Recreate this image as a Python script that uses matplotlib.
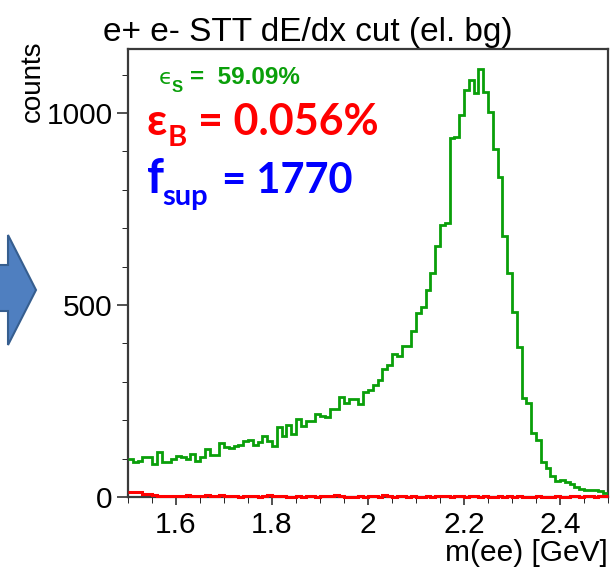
import numpy as np
import matplotlib.pyplot as plt
from matplotlib.patches import Polygon

# m(ee) histogram, 100 bins from 1.5 to 2.5 GeV
x_lo, x_hi, n_bins = 1.5, 2.5, 100

signal = [98, 90, 95, 103, 103, 86, 117, 91, 91, 100,
          108, 104, 100, 113, 94, 104, 125, 110, 110, 140,
          130, 127, 133, 136, 145, 149, 136, 142, 158, 145,
          132, 182, 158, 188, 165, 203, 186, 197, 197, 215,
          210, 208, 230, 230, 261, 245, 254, 254, 243, 273,
          280, 291, 305, 334, 343, 372, 367, 394, 394, 433,
          479, 494, 540, 584, 655, 708, 715, 935, 938, 994,
          1059, 1086, 1052, 1116, 1054, 1002, 907, 834, 680, 584,
          481, 390, 258, 244, 168, 148, 92, 76, 56, 42,
          45, 40, 34, 27, 22, 18, 18, 18, 16, 10]

background = [12, 12, 12, 9, 7, 4, 3, 3, 2, 3,
              2, 2, 5, 3, 2, 3, 5, 3, 2, 5,
              3, 2, 2, 1, 2, 2, 3, 1, 2, 5,
              3, 2, 2, 1, 0, 2, 1, 2, 3, 1,
              2, 2, 3, 5, 2, 1, 0, 1, 2, 1,
              3, 2, 1, 4, 2, 1, 2, 3, 1, 2,
              1, 0, 2, 1, 2, 3, 2, 1, 3, 2,
              1, 2, 3, 1, 2, 0, 1, 2, 1, 3,
              1, 2, 1, 0, 1, 2, 1, 0, 1, 2,
              1, 0, 2, 3, 1, 2, 3, 1, 3, 2]

x_ticks = [1.6, 1.8, 2.0, 2.2, 2.4]
x_ticklabels = ["1.6", "1.8", "2", "2.2", "2.4"]
y_ticks = [0, 500, 1000]

edges = np.linspace(x_lo, x_hi, n_bins + 1)

plt.rcParams['font.family'] = ['Liberation Sans', 'DejaVu Sans']

W, H = 611, 573
fig = plt.figure(figsize=(W / 100, H / 100), dpi=100)
ax = fig.add_axes([128 / W, 1 - 497 / H, 480 / W, 448 / H])

ax.stairs(signal, edges, color='#0a9f0a', linewidth=2.0, baseline=None, zorder=3)
ax.stairs(background, edges, color='#ff0000', linewidth=2.2, baseline=None, zorder=4,
          clip_on=False)

ax.set_xlim(x_lo, x_hi)
ax.set_ylim(0, 1167)
ax.set_xticks(x_ticks)
ax.set_xticklabels(x_ticklabels)
ax.set_yticks(y_ticks)
ax.set_xticks(np.arange(1.5, 2.51, 0.05), minor=True)
ax.set_yticks(np.arange(0, 1167, 100), minor=True)
ax.tick_params(labelsize=21.5, direction='out', color='#333333', width=1.2)
ax.tick_params(axis='y', which='major', length=8, pad=3)
ax.tick_params(axis='y', which='minor', length=4)
ax.tick_params(axis='x', which='major', length=6, pad=4)
ax.tick_params(axis='x', which='minor', length=4)
for s in ax.spines.values():
    s.set_color('#3a3a3a')
    s.set_linewidth(1.6)

ax.set_xlabel("m(ee) [GeV]", loc='right', fontsize=21.5, labelpad=0)
fig.text(33 / W, 1 - 40 / H, "counts", rotation=90, ha='center', va='top', fontsize=20)
fig.text(103 / W, 1 - 41 / H, "e+ e- STT dE/dx cut (el. bg)", ha='left', va='baseline',
         fontsize=24)

# efficiency annotations
def fx(px):
    return (px - 128) / 480

def fy(py):
    return (497 - py) / 448

ax.text(fx(159), fy(84), "\u03f5", color='#0a9f0a', fontsize=16, transform=ax.transAxes,
        family=['DejaVu Sans'])
ax.text(fx(172), fy(92), "S", color='#0a9f0a', fontsize=12, fontweight='bold',
        transform=ax.transAxes)
ax.text(fx(190), fy(84), "=  59.09%", color='#0a9f0a', fontsize=17.5, fontweight='bold',
        transform=ax.transAxes)

big = ['Lato', 'DejaVu Sans']
ax.text(fx(146), fy(135), "\u03b5", color='#ff0000', fontsize=32, fontweight='bold',
        transform=ax.transAxes, family=big)
ax.text(fx(168), fy(146), "B", color='#ff0000', fontsize=21, fontweight='bold',
        transform=ax.transAxes, family=big)
ax.text(fx(198), fy(135), "= 0.056%", color='#ff0000', fontsize=31, fontweight='bold',
        transform=ax.transAxes, family=big)

ax.text(fx(147), fy(193), "f", color='#0000ff', fontsize=34, fontweight='bold',
        transform=ax.transAxes, family=big)
ax.text(fx(162), fy(205), "sup", color='#0000ff', fontsize=21, fontweight='bold',
        transform=ax.transAxes, family=big)
ax.text(fx(222), fy(193), "= 1770", color='#0000ff', fontsize=30, fontweight='bold',
        transform=ax.transAxes, family=big)

# block arrow at the left edge
arrow_px = [(-5, 265), (8, 265), (8, 235), (36, 290), (8, 345), (8, 311), (-5, 311)]
arrow = Polygon([(x / W, 1 - y / H) for x, y in arrow_px], closed=True,
                facecolor='#4f7fc0', edgecolor='#365e8f', linewidth=1.5,
                transform=fig.transFigure)
fig.patches.append(arrow)

fig.savefig("out.png", dpi=100)
